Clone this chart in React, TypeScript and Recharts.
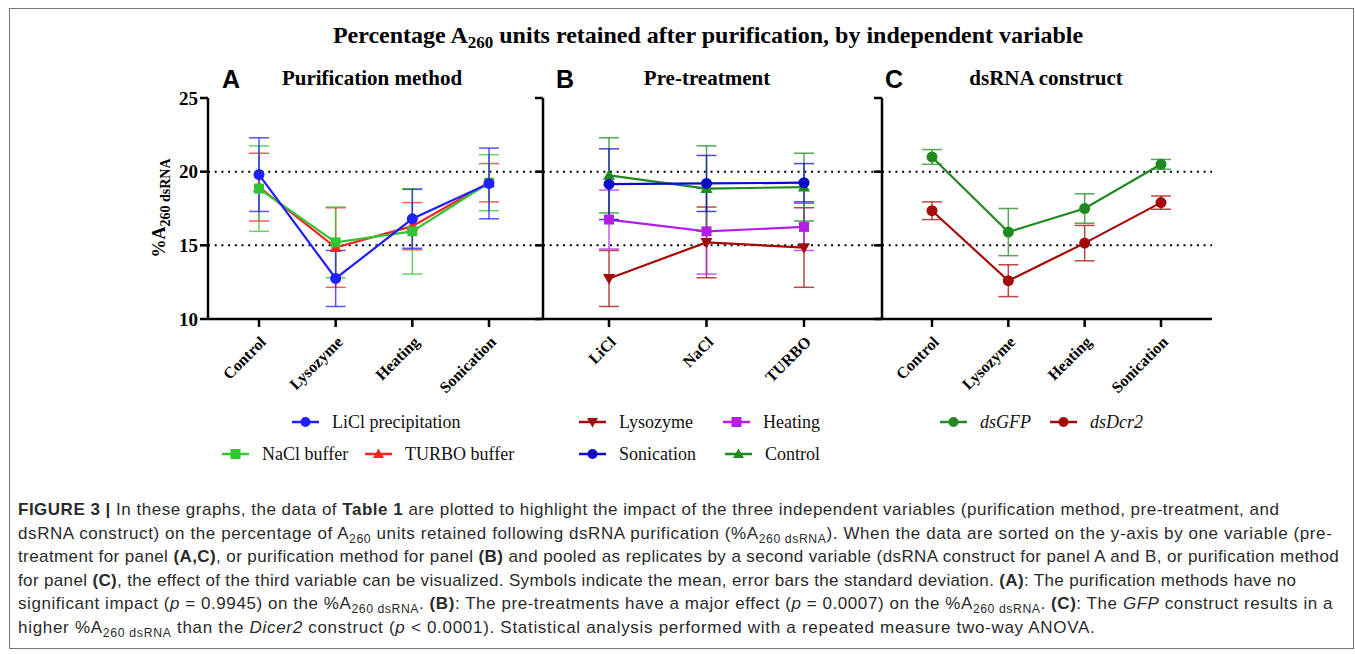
import React from "react";
import { LineChart, Line, XAxis, YAxis, ErrorBar, ReferenceLine } from "recharts";

// panel A + C categories (pre-treatment), panel B categories (purification method)
const treatments = ["Control", "Lysozyme", "Heating", "Sonication"];
const methods = ["LiCl", "NaCl", "TURBO"];
const yTicks = [10, 15, 20, 25];

// panel A: one series per purification method, mean and SD
const liclMean = [19.8, 12.75, 16.8, 19.2];
const liclSd = [2.5, 1.9, 2.0, 2.4];
const naclMean = [18.85, 15.2, 15.95, 19.25];
const naclSd = [2.9, 2.4, 2.9, 1.9];
const turboMean = [18.95, 14.85, 16.3, 19.25];
const turboSd = [2.3, 2.7, 1.6, 1.3];

// panel B: one series per pre-treatment
const lysoMean = [12.75, 15.2, 14.85];
const lysoSd = [1.9, 2.4, 2.7];
const heatMean = [16.75, 15.95, 16.25];
const heatSd = [2.0, 2.9, 1.6];
const sonicMean = [19.15, 19.2, 19.25];
const sonicSd = [2.4, 1.9, 1.3];
const ctrlMean = [19.75, 18.85, 18.95];
const ctrlSd = [2.55, 2.9, 2.3];

// panel C: one series per dsRNA construct
const gfpMean = [21.0, 15.9, 17.5, 20.5];
const gfpSd = [0.5, 1.6, 1.0, 0.33];
const dcrMean = [17.35, 12.6, 15.15, 17.9];
const dcrSd = [0.6, 1.08, 1.2, 0.45];

const SERIF = "'Liberation Serif', 'Times New Roman', serif";
const SANS = "'Liberation Sans', Arial, sans-serif";

const C = {
  blue: "#1f1fff",
  green: "#33c433",
  red: "#ff2222",
  darkRed: "#a30b0b",
  purple: "#b41fe8",
  navy: "#0b0bc8",
  darkGreen: "#1f8a1f",
};

type Shape = "circle" | "square" | "up" | "down";

function Marker({ shape, cx, cy, color, size }: { shape: Shape; cx: number; cy: number; color: string; size: number }) {
  const h = size / 2;
  if (shape === "square") return <rect x={cx - h} y={cy - h} width={size} height={size} fill={color} />;
  if (shape === "up")
    return <polygon points={`${cx},${cy - h * 1.1} ${cx - h * 1.1},${cy + h * 0.8} ${cx + h * 1.1},${cy + h * 0.8}`} fill={color} />;
  if (shape === "down")
    return <polygon points={`${cx},${cy + h * 1.1} ${cx - h * 1.1},${cy - h * 0.8} ${cx + h * 1.1},${cy - h * 0.8}`} fill={color} />;
  return <circle cx={cx} cy={cy} r={h} fill={color} />;
}

const dotFor = (shape: Shape, color: string, size: number) => (p: any) => (
  <Marker key={`d-${p.index}`} shape={shape} cx={p.cx} cy={p.cy} color={color} size={size} />
);

const SlantTick = (props: any) => {
  const { x, y, payload } = props;
  const tx = x + 8;
  const ty = y + 14;
  return (
    <text
      x={tx}
      y={ty}
      transform={`rotate(-45, ${tx}, ${ty})`}
      textAnchor="end"
      fontFamily={SERIF}
      fontWeight="bold"
      fontSize={16}
      fill="#000"
    >
      {payload.value}
    </text>
  );
};

const YTitle = () => (
  <text
    x={25}
    y={148}
    transform="rotate(-90, 25, 148)"
    textAnchor="middle"
    fontFamily={SERIF}
    fontWeight="bold"
    fontSize={18}
    fill="#000"
  >
    %A
    <tspan fontSize={14} dy={5}>
      260 dsRNA
    </tspan>
  </text>
);

const axisLine = { stroke: "#000", strokeWidth: 2.5 };

function refLines() {
  return [15, 20].map((v) => (
    <ReferenceLine key={v} y={v} stroke="#000" strokeWidth={2} strokeDasharray="2 4.7" />
  ));
}

function series(key: string, sdKey: string, color: string, shape: Shape, size: number) {
  return (
    <Line
      key={key}
      dataKey={key}
      stroke={color}
      strokeWidth={2.2}
      dot={dotFor(shape, color, size)}
      activeDot={false}
      isAnimationActive={false}
    >
      <ErrorBar dataKey={sdKey} width={10} strokeWidth={1.5} stroke={color} strokeOpacity={0.75} direction="y" isAnimationActive={false} />
    </Line>
  );
}

const panelA = treatments.map((name, i) => ({
  name,
  licl: liclMean[i], liclSd: liclSd[i],
  nacl: naclMean[i], naclSd: naclSd[i],
  turbo: turboMean[i], turboSd: turboSd[i],
}));
const panelB = methods.map((name, i) => ({
  name,
  lyso: lysoMean[i], lysoSd: lysoSd[i],
  heat: heatMean[i], heatSd: heatSd[i],
  sonic: sonicMean[i], sonicSd: sonicSd[i],
  ctrl: ctrlMean[i], ctrlSd: ctrlSd[i],
}));
const panelC = treatments.map((name, i) => ({
  name,
  gfp: gfpMean[i], gfpSd: gfpSd[i],
  dcr: dcrMean[i], dcrSd: dcrSd[i],
}));

const CHART_TOP = 60;
const CHART_H = 349;
const margin = { top: 38, right: 0, left: 0, bottom: 0 };

function LegendItem({ x, y, color, shape, label, italic }: { x: number; y: number; color: string; shape: Shape; label: string; italic?: boolean }) {
  return (
    <div style={{ position: "absolute", left: x, top: y - 12, height: 24, display: "flex", alignItems: "center", whiteSpace: "nowrap" }}>
      <svg width={27} height={16} style={{ marginRight: 13 }}>
        <line x1={0} x2={27} y1={8} y2={8} stroke={color} strokeWidth={2.5} />
        <Marker shape={shape} cx={13.5} cy={8} color={color} size={10} />
      </svg>
      <span style={{ fontFamily: SERIF, fontSize: 18, fontStyle: italic ? "italic" : "normal", color: "#111" }}>{label}</span>
    </div>
  );
}

const b = (t: string) => <b style={{ fontWeight: 700 }}>{t}</b>;
const i = (t: string) => <i>{t}</i>;
const sub = (t: string) => <sub style={{ fontSize: "0.72em", verticalAlign: "-0.3em", lineHeight: 0 }}>{t}</sub>;

const captionLines: React.ReactNode[] = [
  <>{b("FIGURE 3 |")} In these graphs, the data of {b("Table 1")} are plotted to highlight the impact of the three independent variables (purification method, pre-treatment, and</>,
  <>dsRNA construct) on the percentage of A{sub("260")} units retained following dsRNA purification (%A{sub("260 dsRNA")}). When the data are sorted on the y-axis by one variable (pre-</>,
  <>treatment for panel {b("(A,C)")}, or purification method for panel {b("(B)")} and pooled as replicates by a second variable (dsRNA construct for panel A and B, or purification method</>,
  <>for panel {b("(C)")}, the effect of the third variable can be visualized. Symbols indicate the mean, error bars the standard deviation. {b("(A)")}: The purification methods have no</>,
  <>significant impact ({i("p")} = 0.9945) on the %A{sub("260 dsRNA")}. {b("(B)")}: The pre-treatments have a major effect ({i("p")} = 0.0007) on the %A{sub("260 dsRNA")}. {b("(C)")}: The {i("GFP")} construct results in a</>,
  <>higher %A{sub("260 dsRNA")} than the {i("Dicer2")} construct ({i("p")} &lt; 0.0001). Statistical analysis performed with a repeated measure two-way ANOVA.</>,
];
// the original caption font is a little wider than Liberation Sans; per-line tracking keeps the line ends
const captionSpacing = [0.5, 0.59, 0.4, 0.35, 0.56, 0.7];

export default function App() {
  return (
    <div style={{ position: "absolute", left: 0, top: 0, width: 1355, height: 654, background: "#fff", overflow: "hidden" }}>
      <div style={{ position: "absolute", left: 9, top: 8, width: 1343, height: 639, border: "1px solid #777" }} />

      <svg width={1355} height={100} style={{ position: "absolute", left: 0, top: 0 }}>
        <text x={708} y={43} textAnchor="middle" fontFamily={SERIF} fontWeight="bold" fontSize={24} fill="#000">
          Percentage A<tspan fontSize={17} dy={5}>260</tspan>
          <tspan dy={-5}> units retained after purification, by independent variable</tspan>
        </text>
        <g fontFamily={SANS} fontWeight="bold" fontSize={25} fill="#000">
          <text x={222} y={88}>A</text>
          <text x={556} y={88}>B</text>
          <text x={885} y={88}>C</text>
        </g>
        <g fontFamily={SERIF} fontWeight="bold" fontSize={21} fill="#000" textAnchor="middle">
          <text x={372} y={85}>Purification method</text>
          <text x={707} y={85}>Pre-treatment</text>
          <text x={1046} y={85}>dsRNA construct</text>
        </g>
      </svg>

      <div style={{ position: "absolute", left: 140, top: CHART_TOP }}>
        <LineChart width={403} height={CHART_H} data={panelA} margin={margin}>
          {refLines()}
          <XAxis dataKey="name" padding={{ left: 51, right: 54 }} height={90} axisLine={axisLine} tickLine={axisLine} tickSize={8} tick={<SlantTick />} interval={0} />
          <YAxis
            domain={[10, 25]}
            ticks={yTicks}
            width={68}
            axisLine={axisLine}
            tickLine={axisLine}
            tickSize={8}
            tick={{ fontFamily: SERIF, fontWeight: "bold", fontSize: 19, fill: "#000" }}
            label={<YTitle />}
          />
          {series("turbo", "turboSd", C.red, "up", 11)}
          {series("nacl", "naclSd", C.green, "square", 10)}
          {series("licl", "liclSd", C.blue, "circle", 11)}
        </LineChart>
      </div>

      <div style={{ position: "absolute", left: 533, top: CHART_TOP }}>
        <LineChart width={349} height={CHART_H} data={panelB} margin={margin}>
          {refLines()}
          <XAxis dataKey="name" padding={{ left: 66, right: 78 }} height={90} axisLine={axisLine} tickLine={axisLine} tickSize={8} tick={<SlantTick />} interval={0} />
          <YAxis domain={[10, 25]} ticks={yTicks} width={10} axisLine={axisLine} tickLine={axisLine} tickSize={8} tickFormatter={() => ""} />
          {series("lyso", "lysoSd", C.darkRed, "down", 11)}
          {series("heat", "heatSd", C.purple, "square", 10)}
          {series("ctrl", "ctrlSd", C.darkGreen, "up", 11)}
          {series("sonic", "sonicSd", C.navy, "circle", 11)}
        </LineChart>
      </div>

      <div style={{ position: "absolute", left: 872, top: CHART_TOP }}>
        <LineChart width={340} height={CHART_H} data={panelC} margin={margin}>
          {refLines()}
          <XAxis dataKey="name" padding={{ left: 50, right: 51 }} height={90} axisLine={axisLine} tickLine={axisLine} tickSize={8} tick={<SlantTick />} interval={0} />
          <YAxis domain={[10, 25]} ticks={yTicks} width={10} axisLine={axisLine} tickLine={axisLine} tickSize={8} tickFormatter={() => ""} />
          {series("gfp", "gfpSd", C.darkGreen, "circle", 11)}
          {series("dcr", "dcrSd", C.darkRed, "circle", 11)}
        </LineChart>
      </div>

      <LegendItem x={292} y={422} color={C.blue} shape="circle" label="LiCl precipitation" />
      <LegendItem x={222} y={454} color={C.green} shape="square" label="NaCl buffer" />
      <LegendItem x={365} y={454} color={C.red} shape="up" label="TURBO buffer" />
      <LegendItem x={579} y={422} color={C.darkRed} shape="down" label="Lysozyme" />
      <LegendItem x={723} y={422} color={C.purple} shape="square" label="Heating" />
      <LegendItem x={579} y={454} color={C.navy} shape="circle" label="Sonication" />
      <LegendItem x={725} y={454} color={C.darkGreen} shape="up" label="Control" />
      <LegendItem x={940} y={422} color={C.darkGreen} shape="circle" label="dsGFP" italic />
      <LegendItem x={1050} y={422} color={C.darkRed} shape="circle" label="dsDcr2" italic />

      <div style={{ position: "absolute", left: 18, top: 498, fontFamily: SANS, fontSize: 17, lineHeight: "23.6px", color: "#2a2a2a" }}>
        {captionLines.map((ln, k) => (
          <div key={k} style={{ whiteSpace: "nowrap", letterSpacing: captionSpacing[k] }}>{ln}</div>
        ))}
      </div>
    </div>
  );
}
